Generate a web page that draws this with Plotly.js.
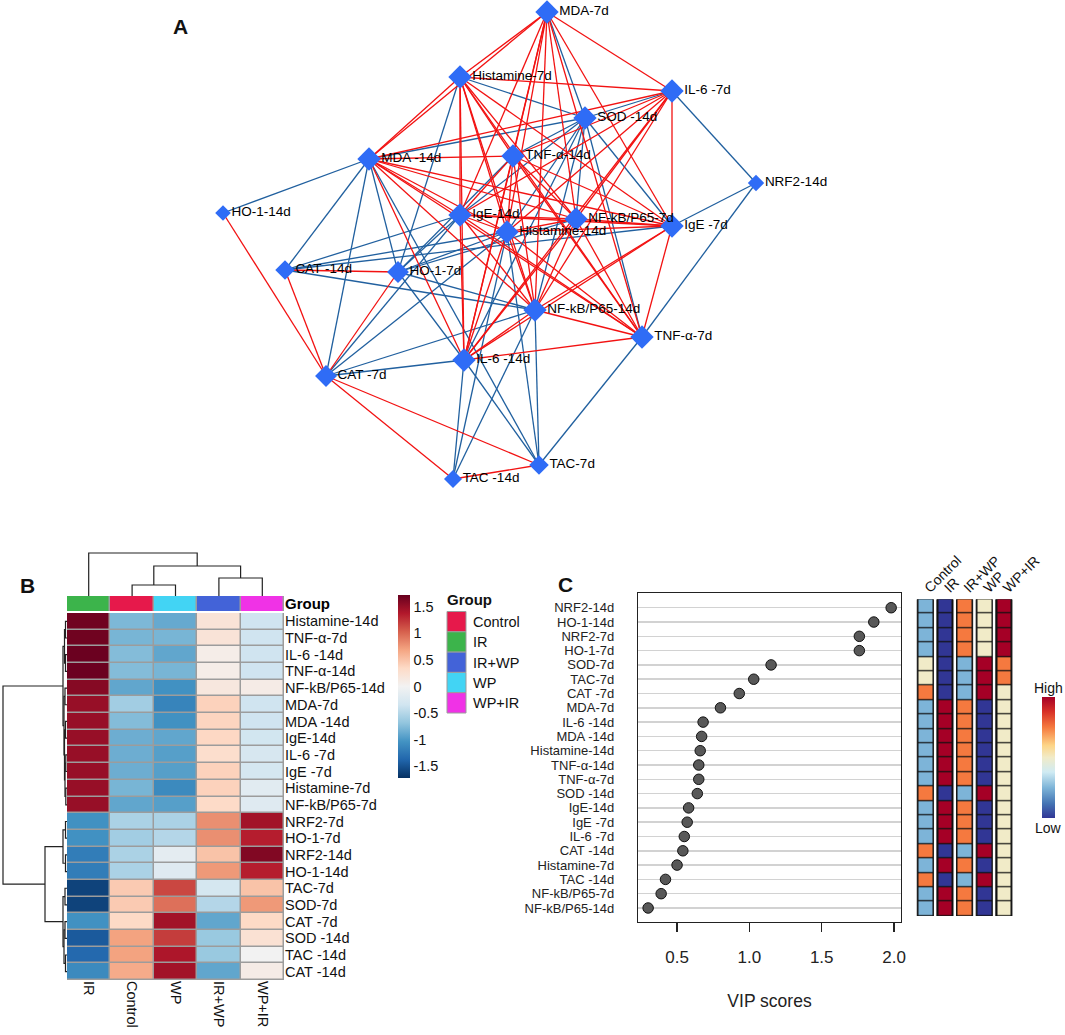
<!DOCTYPE html>
<html><head><meta charset="utf-8">
<script src="https://cdn.plot.ly/plotly-3.0.1.min.js"></script>
<style>html,body{margin:0;padding:0;background:#fff}#chart{width:1065px;height:1035px}</style>
</head><body><div id="chart"></div>
<script>
// ================= DATA =================
// Panel A: correlation network (node layout coordinates + edges)
const nodeNames = ["MDA-7d","Histamine-7d","IL-6 -7d","SOD -14d","TNF-α-14d","MDA -14d","NRF2-14d","HO-1-14d","IgE-14d","NF-kB/P65-7d","IgE -7d","Histamine-14d","CAT -14d","HO-1-7d","NF-kB/P65-14d","TNF-α-7d","IL-6 -14d","CAT -7d","TAC-7d","TAC -14d"];
const nodeX = [547,460,672,585,513,369,756,223,460,576,672,507,285,398,535,642,464,326,539,453];
const nodeY = [12,77,91,118,156,159,183,213,215,219,226,232,270,272,310,337,360,376,465,479];
const posEdges = [
["MDA-7d","Histamine-7d"],["MDA-7d","IL-6 -7d"],["MDA-7d","TNF-α-14d"],["MDA-7d","MDA -14d"],["MDA-7d","IgE-14d"],["MDA-7d","NF-kB/P65-7d"],["MDA-7d","IgE -7d"],["MDA-7d","Histamine-14d"],["MDA-7d","NF-kB/P65-14d"],["MDA-7d","TNF-α-7d"],["MDA-7d","IL-6 -14d"],
["Histamine-7d","IL-6 -7d"],["Histamine-7d","TNF-α-14d"],["Histamine-7d","MDA -14d"],["Histamine-7d","IgE-14d"],["Histamine-7d","NF-kB/P65-7d"],["Histamine-7d","IgE -7d"],["Histamine-7d","Histamine-14d"],["Histamine-7d","NF-kB/P65-14d"],["Histamine-7d","TNF-α-7d"],["Histamine-7d","IL-6 -14d"],
["IL-6 -7d","TNF-α-14d"],["IL-6 -7d","MDA -14d"],["IL-6 -7d","IgE-14d"],["IL-6 -7d","NF-kB/P65-7d"],["IL-6 -7d","IgE -7d"],["IL-6 -7d","Histamine-14d"],["IL-6 -7d","NF-kB/P65-14d"],["IL-6 -7d","IL-6 -14d"],
["TNF-α-14d","MDA -14d"],["TNF-α-14d","IgE-14d"],["TNF-α-14d","NF-kB/P65-7d"],["TNF-α-14d","IgE -7d"],["TNF-α-14d","Histamine-14d"],["TNF-α-14d","NF-kB/P65-14d"],["TNF-α-14d","TNF-α-7d"],["TNF-α-14d","IL-6 -14d"],
["MDA -14d","IgE-14d"],["MDA -14d","NF-kB/P65-7d"],["MDA -14d","IgE -7d"],["MDA -14d","Histamine-14d"],["MDA -14d","NF-kB/P65-14d"],["MDA -14d","TNF-α-7d"],["MDA -14d","IL-6 -14d"],
["IgE-14d","NF-kB/P65-7d"],["IgE-14d","IgE -7d"],["IgE-14d","Histamine-14d"],["IgE-14d","NF-kB/P65-14d"],["IgE-14d","TNF-α-7d"],["IgE-14d","IL-6 -14d"],
["NF-kB/P65-7d","IgE -7d"],["NF-kB/P65-7d","Histamine-14d"],["NF-kB/P65-7d","NF-kB/P65-14d"],["NF-kB/P65-7d","TNF-α-7d"],["NF-kB/P65-7d","IL-6 -14d"],
["IgE -7d","Histamine-14d"],["IgE -7d","NF-kB/P65-14d"],["IgE -7d","TNF-α-7d"],["IgE -7d","IL-6 -14d"],
["Histamine-14d","NF-kB/P65-14d"],["Histamine-14d","TNF-α-7d"],["Histamine-14d","IL-6 -14d"],
["NF-kB/P65-14d","TNF-α-7d"],["NF-kB/P65-14d","IL-6 -14d"],["TNF-α-7d","IL-6 -14d"],
["CAT -14d","HO-1-7d"],["CAT -14d","CAT -7d"],["CAT -7d","HO-1-7d"],["CAT -7d","HO-1-14d"],["CAT -7d","TAC -14d"],["CAT -7d","TAC-7d"],["TAC -14d","TAC-7d"]
];
const negEdges = [
["SOD -14d","MDA-7d"],["SOD -14d","Histamine-7d"],["SOD -14d","IL-6 -7d"],["SOD -14d","TNF-α-14d"],["SOD -14d","MDA -14d"],["SOD -14d","IgE-14d"],["SOD -14d","NF-kB/P65-7d"],["SOD -14d","Histamine-14d"],["SOD -14d","NF-kB/P65-14d"],["SOD -14d","IgE -7d"],["SOD -14d","IL-6 -14d"],["SOD -14d","TNF-α-7d"],
["HO-1-14d","MDA -14d"],
["NRF2-14d","IL-6 -7d"],["NRF2-14d","IgE -7d"],["NRF2-14d","TNF-α-7d"],
["CAT -14d","MDA -14d"],["CAT -14d","Histamine-14d"],["CAT -14d","IgE -7d"],["CAT -14d","NF-kB/P65-14d"],["CAT -14d","IgE-14d"],
["HO-1-7d","MDA -14d"],["HO-1-7d","Histamine-7d"],["HO-1-7d","IgE-14d"],["HO-1-7d","TNF-α-14d"],["HO-1-7d","Histamine-14d"],["HO-1-7d","NF-kB/P65-14d"],["HO-1-7d","IL-6 -14d"],["HO-1-7d","NF-kB/P65-7d"],
["CAT -7d","MDA -14d"],["CAT -7d","IgE-14d"],["CAT -7d","IL-6 -14d"],["CAT -7d","NF-kB/P65-14d"],["CAT -7d","Histamine-14d"],
["TAC -14d","IL-6 -14d"],["TAC -14d","NF-kB/P65-14d"],["TAC -14d","Histamine-14d"],
["TAC-7d","IL-6 -14d"],["TAC-7d","NF-kB/P65-14d"],["TAC-7d","Histamine-14d"],["TAC-7d","TNF-α-7d"],["TAC-7d","MDA -14d"]
];

// Panel B: heatmap (z-scores)
const hmCols = ["IR","Control","WP","IR+WP","WP+IR"];
const hmRows = ["Histamine-14d","TNF-α-7d","IL-6 -14d","TNF-α-14d","NF-kB/P65-14d","MDA-7d","MDA -14d","IgE-14d","IL-6 -7d","IgE -7d","Histamine-7d","NF-kB/P65-7d","NRF2-7d","HO-1-7d","NRF2-14d","HO-1-14d","TAC-7d","SOD-7d","CAT -7d","SOD -14d","TAC -14d","CAT -14d"];
const hmZ = [
[1.68,-0.78,-0.88,0.22,-0.35],
[1.68,-0.80,-0.80,0.22,-0.35],
[1.70,-0.75,-0.90,0.08,-0.35],
[1.70,-0.75,-0.80,0.08,-0.35],
[1.58,-0.90,-1.05,0.16,0.10],
[1.50,-0.60,-1.15,0.40,-0.35],
[1.50,-0.75,-1.05,0.38,-0.35],
[1.50,-0.85,-0.90,0.36,-0.33],
[1.50,-0.85,-0.95,0.30,-0.28],
[1.50,-0.85,-0.95,0.40,-0.30],
[1.50,-0.80,-1.10,0.40,-0.18],
[1.50,-0.90,-0.95,0.34,-0.20],
[-1.05,-0.55,-0.55,0.80,1.45],
[-1.05,-0.60,-0.50,0.80,1.35],
[-1.20,-0.55,-0.15,0.50,1.60],
[-1.20,-0.55,-0.20,0.75,1.35],
[-1.60,0.45,1.15,-0.30,0.50],
[-1.60,0.45,0.95,-0.50,0.75],
[-1.05,0.35,1.45,-0.90,0.35],
[-1.45,0.70,1.20,-0.65,0.25],
[-1.35,0.70,1.40,-0.65,0.00],
[-1.10,0.65,1.45,-0.90,0.10]
];
const groupNames = ["Control","IR","IR+WP","WP","WP+IR"];
const groupColors = ["#e6194b","#3cb44b","#4363d8","#42d4f4","#f032e6"];
// dendrogram merges (leaf = position index, h = merge height)
const colTree = {l:0, r:{l:{l:1,r:2,h:11}, r:{l:3,r:4,h:18}, h:30}, h:43};
const rowTree = {
  l:{l:{l:{l:0,r:1,h:1.5},r:{l:2,r:3,h:1.5},h:2.5},
     r:{l:{l:4,r:5,h:2},r:{l:{l:6,r:7,h:1.5},r:{l:{l:8,r:9,h:1.2},r:{l:10,r:11,h:1.2},h:2},h:2.5},h:3},h:4},
  r:{l:{l:{l:12,r:13,h:1.5},r:{l:14,r:15,h:1.5},h:4},
     r:{l:{l:16,r:17,h:2},r:{l:{l:18,r:19,h:2},r:{l:20,r:21,h:1.5},h:3},h:4},h:22},
  h:64};

// Panel C: VIP scores
const vipNames = ["NRF2-14d","HO-1-14d","NRF2-7d","HO-1-7d","SOD-7d","TAC-7d","CAT -7d","MDA-7d","IL-6 -14d","MDA -14d","Histamine-14d","TNF-α-14d","TNF-α-7d","SOD -14d","IgE-14d","IgE -7d","IL-6 -7d","CAT -14d","Histamine-7d","TAC -14d","NF-kB/P65-7d","NF-kB/P65-14d"];
const vipScores = [1.98,1.86,1.76,1.76,1.15,1.03,0.93,0.80,0.68,0.67,0.66,0.65,0.65,0.64,0.58,0.57,0.55,0.54,0.50,0.42,0.39,0.30];
const stripGroups = ["Control","IR","IR+WP","WP","WP+IR"];
const stripRank = [
[2,1,4,3,5],[2,1,4,3,5],[2,1,4,3,5],[2,1,4,3,5],
[3,1,2,5,4],[3,1,2,5,4],[4,1,2,5,3],
[2,5,4,1,3],[2,5,4,1,3],[2,5,4,1,3],[2,5,4,1,3],[2,5,4,1,3],[2,5,4,1,3],
[4,1,2,5,3],[2,5,4,1,3],[2,5,4,1,3],[2,5,4,1,3],[4,1,2,5,3],[2,5,4,1,3],[4,1,2,5,3],[2,5,4,1,3],[2,5,4,1,3]
];

// ================= BUILD =================
const W = 1065, H = 1035;
const FONT = "Liberation Sans, Arial, Helvetica, sans-serif";
const px = v => v / W;           // paper x from pixel
const py = v => 1 - v / H;       // paper y from pixel

function edgeTrace(list, color) {
  const xs = [], ys = [];
  list.forEach(([a, b]) => {
    const i = nodeNames.indexOf(a), j = nodeNames.indexOf(b);
    xs.push(nodeX[i], nodeX[j], null);
    ys.push(nodeY[i], nodeY[j], null);
  });
  return {type:'scatter', mode:'lines', x:xs, y:ys, xaxis:'x', yaxis:'y',
          line:{color:color, width:1.3}, hoverinfo:'skip'};
}
const degree = nodeNames.map(n => posEdges.concat(negEdges).filter(e => e[0] === n || e[1] === n).length);
const nodeSize = degree.map(d => 12 + 6 * Math.min(1, Math.max(0, d - 2) / 10));

function dendro(tree, rowMode) {
  const xs = [], ys = [];
  function walk(n) {
    if (typeof n === 'number') return {p:n, h:0};
    const a = walk(n.l), b = walk(n.r);
    const pts = [[a.p, a.h], [a.p, n.h], [b.p, n.h], [b.p, b.h]];
    pts.forEach(([p, h]) => { if (rowMode) { xs.push(h); ys.push(p); } else { xs.push(p); ys.push(h); } });
    xs.push(null); ys.push(null);
    return {p:(a.p + b.p) / 2, h:n.h};
  }
  walk(tree);
  return {xs, ys};
}
const cd = dendro(colTree, false), rd = dendro(rowTree, true);

const rdbu = [[0,'#053061'],[0.1,'#2166ac'],[0.2,'#4393c3'],[0.3,'#92c5de'],[0.4,'#d1e5f0'],[0.5,'#f2f2f2'],[0.6,'#fddbc7'],[0.7,'#f4a582'],[0.8,'#d6604d'],[0.9,'#b2182b'],[1,'#67001f']];
const rdylbu = [[0,'#313695'],[0.12,'#4575b4'],[0.25,'#7db4d8'],[0.38,'#d0ebf3'],[0.5,'#f1ebc8'],[0.6,'#fdd587'],[0.75,'#f5793f'],[0.88,'#d73027'],[1,'#a50026']];
const groupScale = groupColors.map((c, i) => [i / (groupColors.length - 1), c]);

const traces = [
  edgeTrace(negEdges, '#21609f'),
  edgeTrace(posEdges, '#f21212'),
  {type:'scatter', mode:'markers+text', x:nodeX, y:nodeY, text:nodeNames, textposition:'middle right',
   textfont:{size:13.5, color:'#000', family:FONT}, xaxis:'x', yaxis:'y', cliponaxis:false,
   marker:{symbol:'diamond', size:nodeSize, color:'#2f6cf6', opacity:1, line:{width:0}}, hoverinfo:'text'},
  // Panel B heatmap
  {type:'heatmap', x:hmCols, y:hmRows, z:hmZ, xaxis:'x2', yaxis:'y2', colorscale:rdbu, zmin:-1.72, zmax:1.72,
   xgap:1.5, ygap:1.5,
   colorbar:{x:px(398), xanchor:'left', y:py(595), yanchor:'top', len:183, lenmode:'pixels', thickness:12,
     xpad:0, ypad:0, outlinewidth:0, ticks:'', tickvals:[-1.5,-1,-0.5,0,0.5,1,1.5],
     ticktext:['-1.5','-1','-0.5','0','0.5','1','1.5'], tickfont:{size:14.5, family:FONT, color:'#111'}}},
  {type:'heatmap', x:hmCols, y:['Group'], z:[hmCols.map(c => groupNames.indexOf(c))], xaxis:'x3', yaxis:'y3',
   colorscale:groupScale, zmin:0, zmax:groupNames.length - 1, showscale:false, xgap:1.5, hoverinfo:'x'},
  {type:'scatter', mode:'lines', x:cd.xs, y:cd.ys, xaxis:'x4', yaxis:'y4', line:{color:'#222', width:1.2}, hoverinfo:'skip'},
  {type:'scatter', mode:'lines', x:rd.xs, y:rd.ys, xaxis:'x5', yaxis:'y5', line:{color:'#222', width:1.2}, hoverinfo:'skip'},
  // Panel C
  {type:'scatter', mode:'markers', x:vipScores, y:vipNames, xaxis:'x6', yaxis:'y6',
   marker:{size:10.5, color:'#585858', opacity:1, line:{color:'#111', width:1}}},
  {type:'heatmap', x:stripGroups, y:vipNames, z:stripRank, xaxis:'x7', yaxis:'y7', colorscale:rdylbu, zmin:1, zmax:5,
   xgap:6, ygap:1.2,
   colorbar:{x:px(1041.5), xanchor:'left', y:py(697), yanchor:'top', len:121, lenmode:'pixels', thickness:12.5,
     xpad:0, ypad:0, outlinewidth:0, ticks:'', showticklabels:false}}
];

const shapes = [
  {type:'rect', xref:'x2', yref:'y2', x0:-0.5, x1:4.5, y0:-0.5, y1:21.5, fillcolor:'#9c9c9c', line:{width:0}, layer:'below'},
  {type:'rect', xref:'x3', yref:'y3', x0:-0.5, x1:4.5, y0:-0.5, y1:0.5, fillcolor:'#9c9c9c', line:{width:0}, layer:'below'}
];
stripGroups.forEach((g, i) => shapes.push({type:'rect', xref:'x7', yref:'y7', x0:i - 0.41, x1:i + 0.41,
  y0:-0.5, y1:vipNames.length - 0.5, fillcolor:'#111', line:{color:'#111', width:1}, layer:'below'}));
const mid = {xref:'paper', yref:'paper', showarrow:false, yanchor:'middle'};
const annotations = [
  Object.assign({text:'<b>A</b>', x:px(180), y:py(27), xanchor:'center', font:{size:21, family:FONT}}, mid),
  Object.assign({text:'<b>B</b>', x:px(27), y:py(585), xanchor:'center', font:{size:21, family:FONT}}, mid),
  Object.assign({text:'<b>C</b>', x:px(565), y:py(584), xanchor:'center', font:{size:21, family:FONT}}, mid),
  Object.assign({text:'<b>Group</b>', x:px(445), y:py(599), xanchor:'left', font:{size:15, family:FONT}}, mid),
  Object.assign({text:'High', x:px(1048), y:py(688), xanchor:'center', font:{size:14, family:FONT}}, mid),
  Object.assign({text:'Low', x:px(1048), y:py(828), xanchor:'center', font:{size:14, family:FONT}}, mid)
];
groupNames.forEach((g, i) => {
  const top = 611.5 + i * 20.3;
  shapes.push({type:'rect', xref:'paper', yref:'paper', x0:px(447), x1:px(466), y0:py(top), y1:py(top + 20.3),
    fillcolor:groupColors[i], line:{color:'#9c9c9c', width:1}});
  annotations.push(Object.assign({text:g, x:px(471), y:py(top + 10.5), xanchor:'left',
    font:{size:14.5, family:FONT, color:'#111'}}, mid));
});

const hidden = {visible:false, showgrid:false, zeroline:false, fixedrange:true};
const layout = {
  width:W, height:H, margin:{l:0, r:0, t:0, b:0}, paper_bgcolor:'#fff', plot_bgcolor:'rgba(0,0,0,0)',
  showlegend:false, font:{family:FONT, color:'#111'},
  xaxis:Object.assign({}, hidden, {domain:[0,1], range:[0,W], anchor:'y'}),
  yaxis:Object.assign({}, hidden, {domain:[0.5,1], range:[H/2,0], anchor:'x'}),
  xaxis2:{domain:[px(67), px(284)], anchor:'y2', range:[-0.5,4.5], tickangle:90, ticks:'', showgrid:false, zeroline:false,
    tickmode:'array', tickvals:hmCols, ticktext:hmCols, tickfont:{size:14.5, family:FONT, color:'#111'}},
  yaxis2:{domain:[py(980), py(613)], anchor:'x2', side:'right', range:[21.5,-0.5], ticks:'', showgrid:false, zeroline:false,
    tickmode:'array', tickvals:hmRows, ticktext:hmRows,
    tickfont:{size:14.5, family:FONT, color:'#111'}, ticklabelstandoff:0},
  xaxis3:Object.assign({}, hidden, {domain:[px(67), px(284)], anchor:'y3', range:[-0.5,4.5]}),
  yaxis3:{domain:[py(611), py(596)], anchor:'x3', side:'right', range:[-0.5,0.5], ticks:'', showgrid:false, zeroline:false,
    tickmode:'array', tickvals:['Group'], ticktext:['<b>Group</b>'], tickfont:{size:15, family:FONT, color:'#000'}, ticklabelstandoff:0},
  xaxis4:Object.assign({}, hidden, {domain:[px(67), px(284)], anchor:'y4', range:[-0.5,4.5]}),
  yaxis4:Object.assign({}, hidden, {domain:[py(596), py(550)], anchor:'x4', range:[0,46]}),
  xaxis5:Object.assign({}, hidden, {domain:[0, px(67)], anchor:'y5', range:[67,0]}),
  yaxis5:Object.assign({}, hidden, {domain:[py(980), py(613)], anchor:'x5', range:[21.5,-0.5]}),
  xaxis6:{domain:[px(638), px(901)], anchor:'y6', range:[0.23,2.048], tickmode:'array', tickvals:[0.5,1,1.5,2], ticktext:['0.5','1.0','1.5','2.0'],
    ticks:'outside', ticklen:9, tickwidth:1.2, tickcolor:'#222', showline:true, mirror:true, linecolor:'#222', linewidth:1.2,
    showgrid:false, zeroline:false, tickfont:{size:17, family:FONT, color:'#222'}, ticklabelstandoff:10,
    title:{text:'VIP scores', font:{size:17.5, family:FONT, color:'#222'}, standoff:29}},
  yaxis6:{domain:[py(922), py(593)], anchor:'x6', type:'category', categoryorder:'array', categoryarray:vipNames,
    range:[21.98,-1.03], tickmode:'array', tickvals:vipNames, ticktext:vipNames,
    showgrid:true, gridcolor:'#d2d2d2', gridwidth:1.5, showline:true, mirror:true, linecolor:'#222',
    linewidth:1.2, ticks:'', zeroline:false, tickfont:{size:13, family:FONT, color:'#222'}, ticklabelstandoff:20},
  xaxis7:{domain:[px(915.5), px(1013.7)], anchor:'y7', side:'top', range:[-0.5,4.5], tickangle:-45, ticks:'',
    tickmode:'array', tickvals:stripGroups, ticktext:stripGroups,
    showgrid:false, zeroline:false, tickfont:{size:14, family:FONT, color:'#111'}},
  yaxis7:{domain:[py(916), py(599.3)], anchor:'x7', range:[21.5,-0.5], showticklabels:false, ticks:'', showgrid:false, zeroline:false},
  shapes:shapes, annotations:annotations
};
Plotly.newPlot('chart', traces, layout, {displayModeBar:false, staticPlot:true});
</script></body></html>
